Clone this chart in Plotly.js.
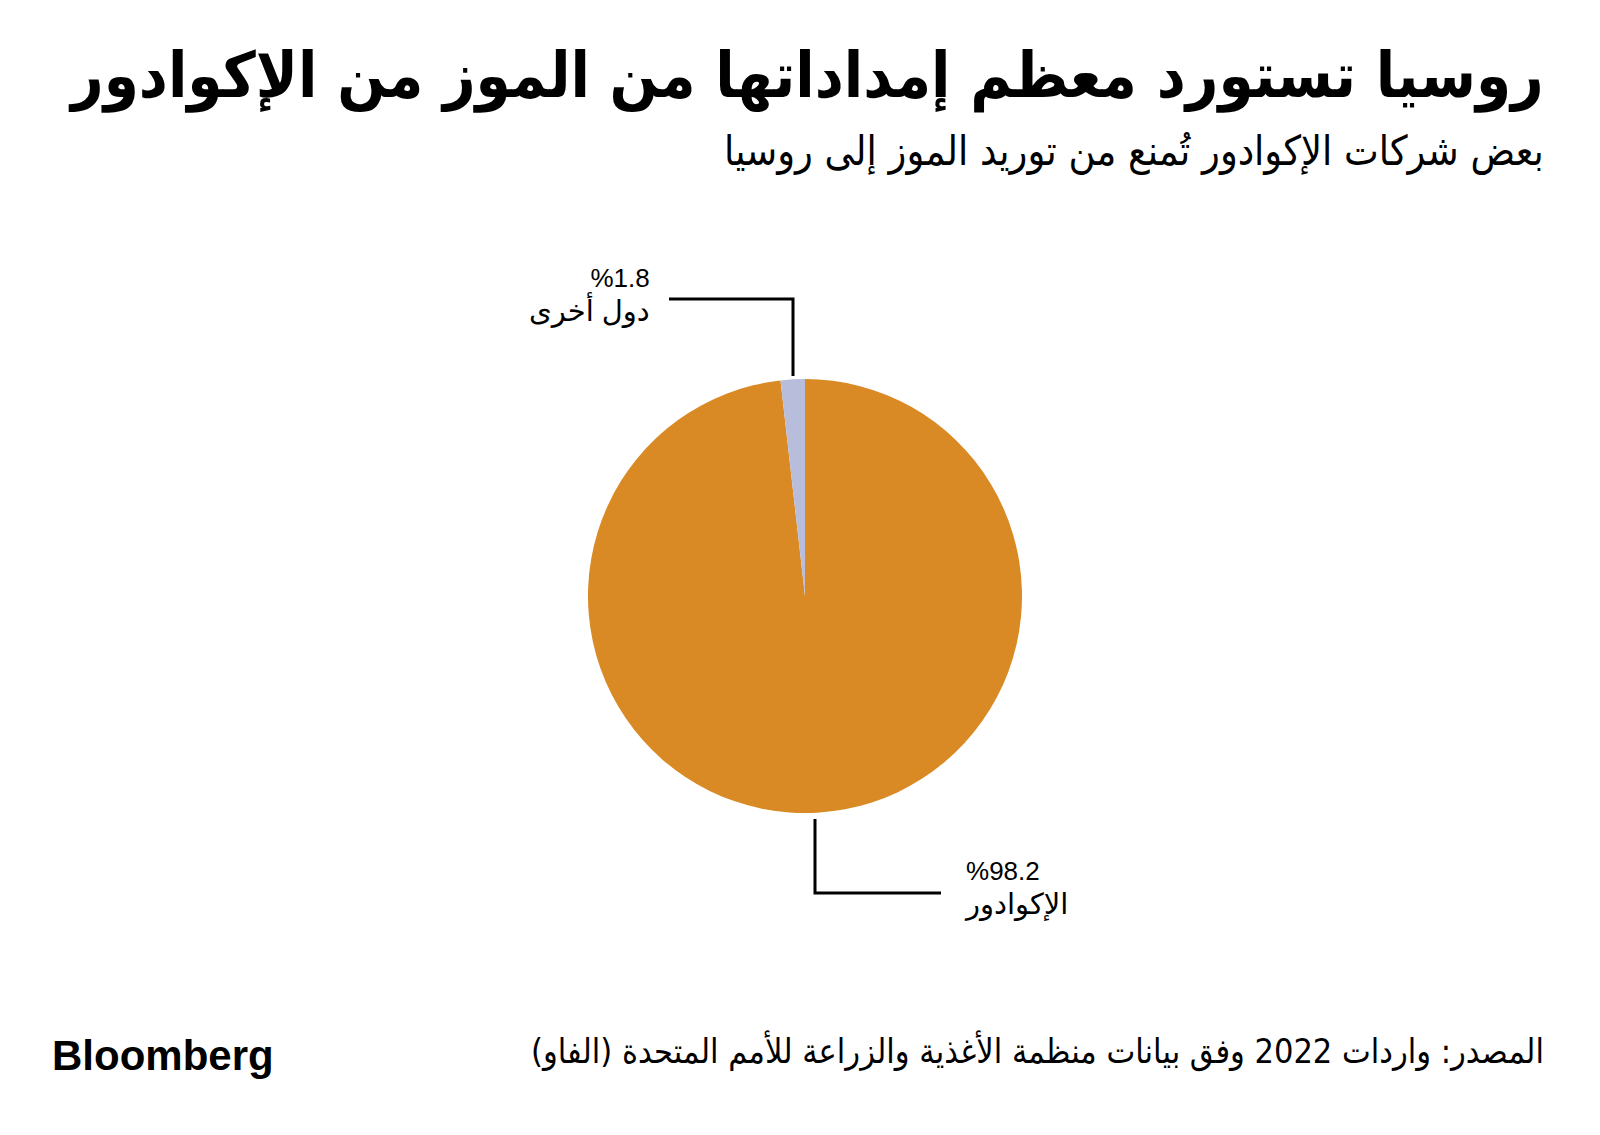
<!DOCTYPE html>
<html><head><meta charset="utf-8">
<script src="https://cdn.plot.ly/plotly-3.0.1.min.js"></script>
<style>html,body{margin:0;padding:0;background:#fff}#chart{width:1600px;height:1135px}</style>
</head><body><div id="chart"></div>
<script>
const categories = ["الإكوادور", "دول أخرى"];
const shares = [98.2, 1.8];
const colors = ["#d98a25", "#b9bddc"];
const titleText = "روسيا تستورد معظم إمداداتها من الموز من الإكوادور";
const subtitleText = "بعض شركات الإكوادور تُمنع من توريد الموز إلى روسيا";
const sourceText = "المصدر: واردات 2022 وفق بيانات منظمة الأغذية والزراعة للأمم المتحدة (الفاو)";

const RLE = "\u202B\u061C", PDF = "\u202C";
const rtl = s => RLE + s + PDF;
const W = 1600, H = 1135;
const px = x => x / W, py = y => 1 - y / H;
const arFont = "'DejaVu Sans Condensed', 'DejaVu Sans', sans-serif";
const lblFont = "'Liberation Sans', 'DejaVu Sans', sans-serif";

const cx = 805, cy = 596, r = 217;

const data = [{
  type: "pie",
  labels: categories,
  values: shares,
  marker: {colors: colors, line: {width: 0}},
  sort: false,
  direction: "clockwise",
  rotation: 0,
  textinfo: "none",
  hoverinfo: "label+percent",
  showlegend: false,
  domain: {x: [px(cx - r), px(cx + r)], y: [py(cy + r), py(cy - r)]}
}];

const fmt = v => rtl(v.toFixed(1) + "%");
const arLine = s => '<span style="font-size:29px">' + rtl(s) + '</span>';

const layout = {
  width: W, height: H,
  margin: {l: 0, r: 0, t: 0, b: 0},
  paper_bgcolor: "#fff",
  showlegend: false,
  shapes: [
    {type: "path", xref: "paper", yref: "paper",
     path: `M ${px(793)} ${py(376)} L ${px(793)} ${py(299)} L ${px(669)} ${py(299)}`,
     line: {color: "#000", width: 3}},
    {type: "path", xref: "paper", yref: "paper",
     path: `M ${px(815)} ${py(819)} L ${px(815)} ${py(893)} L ${px(941)} ${py(893)}`,
     line: {color: "#000", width: 3}}
  ],
  annotations: [
    {xref: "paper", yref: "paper", x: px(1546), y: py(76), xanchor: "right", yanchor: "middle",
     text: "<b>" + rtl(titleText) + "</b>", showarrow: false, align: "right",
     font: {family: arFont, size: 63, color: "#000"}},
    {xref: "paper", yref: "paper", x: px(1546), y: py(151), xanchor: "right", yanchor: "middle",
     text: rtl(subtitleText), showarrow: false, align: "right",
     font: {family: arFont, size: 41, color: "#000"}},
    {xref: "paper", yref: "paper", x: px(652), y: py(295), xanchor: "right", yanchor: "middle",
     text: fmt(shares[1]) + "<br>" + arLine(categories[1]), showarrow: false, align: "right",
     font: {family: lblFont, size: 26, color: "#000"}},
    {xref: "paper", yref: "paper", x: px(962), y: py(889), xanchor: "left", yanchor: "middle",
     text: fmt(shares[0]) + "<br>" + arLine(categories[0]), showarrow: false, align: "left",
     font: {family: lblFont, size: 26, color: "#000"}},
    {xref: "paper", yref: "paper", x: px(1546), y: py(1051), xanchor: "right", yanchor: "middle",
     text: rtl(sourceText), showarrow: false, align: "right",
     font: {family: arFont, size: 34, color: "#000"}},
    {xref: "paper", yref: "paper", x: px(50), y: py(1055), xanchor: "left", yanchor: "middle",
     text: "<b>Bloomberg</b>", showarrow: false,
     font: {family: "'Liberation Sans', Arial, sans-serif", size: 42, color: "#000"}}
  ]
};

Plotly.newPlot("chart", data, layout, {displayModeBar: false, staticPlot: true});
</script></body></html>
